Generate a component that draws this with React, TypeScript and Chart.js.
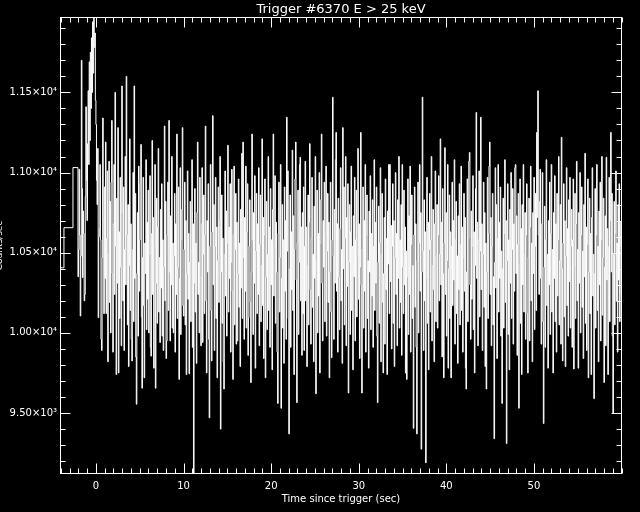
import React, { useEffect, useRef } from "react";
import { Chart, registerables } from "chart.js";

Chart.register(...registerables);

// ---- text ----
const TITLE = "Trigger #6370 E > 25 keV";
const X_TITLE = "Time since trigger (sec)";
const Y_TITLE = "Counts/sec";

// ---- axes ----
const X_MIN = -4.1;
const X_MAX = 60.05;
const Y_MIN = 9120;
const Y_MAX = 11970;
const X_TICKS = [0, 10, 20, 30, 40, 50];
const X_TICK_LABELS = ["0", "10", "20", "30", "40", "50"];
const Y_TICKS = [9500, 10000, 10500, 11000, 11500];
const Y_TICK_LABELS = ["9.50×10³", "1.00×10⁴", "1.05×10⁴", "1.10×10⁴", "1.15×10⁴"];
const X_MINOR_STEP = 1;
const Y_MINOR_STEP = 100;

// ---- data: coarse pre-trigger bins (start times, rates) ----
const PRE_TIMES = [-4.67, -3.65, -2.62];
const PRE_RATES = [10406, 10656, 11031];

// ---- data: 0.064 s bins starting at -2.048 s ----
const FINE_START = -2.048;
const FINE_WIDTH = 0.064;
const FINE_RATES = [
  10350, 10520, 11020, 10610, 10105, 10480, 11700, 10900, 10345, 10760, 10620, 10200, 10240, 10850, 11410, 10950, 10700, 11180, 11510, 11050,
  11690, 11200, 11750, 11400, 11840, 11500, 11940, 11620, 12100, 11780, 11870, 11450, 11300, 10950, 10800, 11150, 10095, 10600, 10650, 11050,
  10580, 9960, 9890, 10470, 11340, 10700, 10120, 10910, 10340, 11190, 10120, 10590, 11010, 9820, 10490, 11070, 10190, 10820, 10000, 10940,
  11325, 10370, 9880, 10680, 11050, 10240, 11500, 10540, 9740, 10840, 10310, 11280, 9750, 10630, 10090, 10970, 10410, 9920, 11540, 10750,
  10200, 10910, 9890, 10520, 11100, 10300, 11600, 10610, 10050, 10800, 9790, 10420, 11210, 10140, 10680, 9960, 9825, 10520, 11000, 10070,
  11540, 10340, 10870, 9850, 9555, 10370, 10750, 9980, 11040, 10260, 10580, 10930, 11175, 10100, 9655, 10470, 10970, 10170, 9720, 10560,
  10370, 11080, 10020, 10690, 10210, 10890, 10000, 10490, 10980, 9910, 9855, 10620, 11200, 10240, 10720, 9780, 10540, 11050, 9655, 10310,
  10840, 10060, 10660, 11150, 10130, 10470, 9940, 10770, 10280, 10930, 9980, 10580, 9890, 10410, 11290, 10200, 10820, 9840, 9950, 10610,
  10940, 10140, 11325, 10380, 9950, 10730, 10300, 11100, 10030, 10560, 10000, 10480, 10870, 9880, 10680, 10240, 11240, 10090, 10410, 10910,
  9710, 10340, 11030, 9990, 10580, 10770, 11280, 10170, 10105, 10520, 10940, 10050, 10700, 9740, 10370, 11010, 10210, 10620, 9745, 10440,
  10820, 10070, 10510, 11080, 9910, 10680, 9000, 10310, 10900, 10130, 10560, 9810, 10750, 11190, 10240, 10440, 10000, 10970, 10350, 9920,
  10680, 11030, 9940, 10490, 10860, 10120, 10610, 11290, 10200, 9750, 10700, 10380, 10930, 9960, 9470, 10540, 11050, 10140, 9825, 10630,
  11355, 10300, 10800, 9890, 10540, 10970, 10090, 10660, 9720, 10450, 10910, 10190, 10700, 11100, 9400, 10380, 10860, 10060, 10590, 9820,
  9650, 10490, 11010, 10230, 10760, 9980, 10560, 11170, 10130, 10660, 10340, 10930, 9880, 10440, 11020, 10260, 9710, 10610, 11040, 10050,
  10520, 10870, 9930, 10690, 9950, 10370, 10960, 10160, 10560, 9790, 10770, 10280, 11120, 10090, 11190, 10470, 9960, 10720, 10260, 11040,
  10030, 10630, 10930, 9860, 10095, 10540, 10830, 10190, 9690, 10380, 11240, 10580, 9990, 10750, 10310, 10980, 9780, 10510, 10870, 10120,
  10680, 10240, 11030, 9920, 10550, 10860, 10070, 10420, 11210, 10170, 10720, 9840, 10610, 10960, 9720, 10350, 10820, 10020, 10490, 11100,
  10140, 10660, 9910, 10900, 10300, 10580, 9770, 10770, 11240, 10230, 10540, 10980, 10060, 10690, 10380, 9880, 9560, 10620, 10940, 10130,
  10470, 11050, 9530, 10340, 10800, 10030, 10580, 9810, 10910, 10260, 10700, 9960, 11345, 10510, 11010, 10090, 9370, 10400, 10860, 9910,
  10630, 10270, 11140, 10140, 10730, 9740, 10520, 10960, 11190, 10330, 9565, 10560, 10890, 9990, 10440, 11050, 11095, 10200, 10660, 9860,
  10750, 10120, 10910, 9890, 10540, 11070, 10200, 10660, 9790, 10420, 10860, 10050, 10690, 11180, 10270, 9930, 10590, 10970, 10160, 10490,
  9820, 10790, 10340, 11100, 9620, 10450, 10890, 10000, 10620, 10230, 11000, 9750, 10560, 10830, 11240, 10310, 9950, 10700, 10410, 10940,
  10070, 10610, 11040, 9980, 10510, 10870, 10190, 10690, 9720, 10380, 10940, 10130, 9845, 10580, 11470, 10480, 9960, 10770, 10310, 11080,
  11250, 10260, 10680, 9880, 10840, 10350, 10020, 10650, 11030, 10200, 10520, 9810, 11280, 10400, 10910, 10050, 10590, 11100, 9920, 10720,
  10290, 10930, 9625, 10440, 10800, 9990, 10630, 11040, 10140, 10540, 9770, 10730, 10350, 10970, 9950, 10580, 10890, 10100, 10480, 11150,
  10210, 10680, 9840, 10410, 11250, 10300, 9625, 10520, 10910, 10030, 10700, 10260, 11050, 9880, 10610, 10860, 10090, 10450, 9780, 10760,
  10380, 10980, 10020, 10620, 10230, 10830, 9910, 10540, 11080, 10140, 10690, 10310, 10910, 9980, 9565, 10440, 10790, 10060, 10560, 11030,
  9820, 10490, 10870, 10190, 9750, 10370, 10720, 9930, 10960, 10270, 10590, 9740, 10760, 10430, 11050, 10120, 11050, 10320, 10670, 9900,
  10540, 10930, 10060, 10700, 9790, 10470, 11000, 10240, 10620, 9920, 10830, 10340, 11100, 10030, 10580, 10190, 10800, 9860, 11050, 10410,
  10120, 10890, 10300, 10660, 9750, 10510, 9710, 10350, 10960, 9990, 10730, 10240, 11040, 9880, 10550, 10860, 10090, 10420, 9405, 10610,
  10910, 10160, 10680, 9910, 9370, 10450, 10940, 10000, 10560, 11050, 10260, 10750, 9275, 10380, 11470, 10510, 9890, 10830, 10200, 10630,
  9190, 10340, 10970, 10060, 10690, 9770, 10520, 10870, 10130, 10580, 11100, 9950, 10420, 10770, 10270, 9820, 10680, 11010, 10070, 10480,
  10800, 10030, 10610, 10980, 10200, 10490, 11210, 10300, 10690, 9850, 10900, 10370, 9720, 10560, 11155, 10240, 10750, 9980, 10450, 11050,
  9780, 10400, 10860, 10090, 10630, 9720, 10540, 10940, 10170, 10700, 10330, 11080, 9930, 10580, 10820, 10120, 10480, 9810, 10730, 10270,
  10930, 10050, 10550, 11040, 10140, 10660, 9880, 10470, 10870, 10260, 10720, 9780, 9650, 10380, 10960, 10070, 10590, 11070, 11125, 10300,
  9960, 10760, 10210, 10540, 10980, 10020, 10630, 9750, 10420, 10900, 11375, 10340, 10690, 9920, 10580, 11010, 10100, 10510, 11345, 10270,
  10680, 9890, 10490, 10940, 10160, 10750, 9790, 10560, 9650, 10380, 10970, 10090, 10620, 11040, 11190, 10240, 10720, 9920, 10540, 10870,
  10050, 10350, 9340, 10440, 11030, 10280, 10800, 9840, 10590, 11050, 10130, 10690, 10340, 10910, 9980, 10510, 9560, 10400, 10840, 10030,
  10620, 11080, 10190, 10700, 9310, 10450, 10930, 9990, 10580, 9770, 10770, 10310, 11000, 10090, 10520, 10900, 9930, 10680, 10260, 11030,
  11050, 10370, 10730, 9860, 10550, 10870, 9530, 10420, 10960, 10060, 10650, 9740, 10800, 10300, 11050, 10130, 10490, 10750, 9960, 10610,
  10930, 10120, 9750, 10470, 10840, 9950, 10660, 11040, 10200, 10560, 9820, 10750, 10370, 10970, 10020, 10540, 10870, 10140, 11250, 10720,
  11510, 10610, 10240, 10820, 11020, 10340, 9930, 10680, 11000, 10070, 9435, 10410, 10790, 9910, 10580, 11080, 10170, 10490, 9780, 10700,
  10300, 10940, 9990, 10620, 11050, 10130, 10520, 9750, 10750, 10340, 10980, 10070, 10680, 9880, 10870, 10230, 10580, 11100, 10050, 10450,
  10800, 9930, 11220, 10400, 9825, 10560, 10930, 10100, 10700, 9790, 10480, 11030, 10170, 10650, 9980, 10830, 10320, 10970, 10030, 10540,
  10770, 9910, 10580, 10960, 9775, 10420, 10870, 10090, 10680, 11070, 10200, 10520, 9780, 10750, 10310, 11000, 10000, 10610, 10910, 10160,
  10510, 9840, 10800, 10350, 11120, 10060, 10660, 9890, 10550, 10960, 9720, 10380, 10840, 10120, 10620, 9740, 10720, 11030, 10230, 10490,
  9590, 10370, 10900, 10030, 10610, 11050, 10140, 10540, 9820, 10760, 10300, 10940, 9950, 10580, 11100, 10110, 10470, 10840, 9690, 10410,
  10730, 9920, 11095, 10330, 10650, 9740, 10540, 10970, 10070, 10700, 11250, 10380, 10870, 9980, 9500, 10490, 10820, 10050, 10620, 11010,
  10200, 10560, 9880, 10800, 10330, 10930, 10070, 10540, 10690, 10240, 10480,
];

function buildPoints() {
  const pts: { x: number; y: number }[] = [];
  PRE_TIMES.forEach((t, i) => pts.push({ x: t, y: PRE_RATES[i] }));
  FINE_RATES.forEach((v, i) => pts.push({ x: FINE_START + i * FINE_WIDTH, y: v }));
  const last = FINE_RATES[FINE_RATES.length - 1];
  pts.push({ x: FINE_START + FINE_RATES.length * FINE_WIDTH, y: last });
  return pts;
}

const FONT = "'DejaVu Sans', sans-serif";

const framePlugin = {
  id: "idlFrame",
  afterDatasetsDraw(chart: any) {
    const { ctx, chartArea: a, scales } = chart;
    const xs = scales.x;
    const ys = scales.y;
    ctx.save();
    ctx.strokeStyle = "#ffffff";
    ctx.lineWidth = 1;
    const L = Math.round(a.left) + 0.5;
    const R = Math.round(a.right) - 0.5;
    const T = Math.round(a.top) + 0.5;
    const B = Math.round(a.bottom) - 0.5;
    ctx.strokeRect(L, T, R - L, B - T);
    ctx.beginPath();
    for (let v = Math.ceil(X_MIN / X_MINOR_STEP) * X_MINOR_STEP; v <= X_MAX; v += X_MINOR_STEP) {
      const major = X_TICKS.includes(v);
      const len = major ? 10 : 5;
      const px = Math.round(xs.getPixelForValue(v)) + 0.5;
      ctx.moveTo(px, B);
      ctx.lineTo(px, B - len);
      ctx.moveTo(px, T);
      ctx.lineTo(px, T + len);
    }
    for (let v = Math.ceil(Y_MIN / Y_MINOR_STEP) * Y_MINOR_STEP; v <= Y_MAX; v += Y_MINOR_STEP) {
      const major = Y_TICKS.includes(v);
      const len = major ? 10 : 5;
      const py = Math.round(ys.getPixelForValue(v)) + 0.5;
      ctx.moveTo(L, py);
      ctx.lineTo(L + len, py);
      ctx.moveTo(R, py);
      ctx.lineTo(R - len, py);
    }
    ctx.stroke();

    ctx.fillStyle = "#ffffff";
    ctx.textAlign = "center";
    ctx.textBaseline = "alphabetic";
    ctx.font = `13px ${FONT}`;
    ctx.fillText(TITLE, (a.left + a.right) / 2, 13);
    ctx.font = `10px ${FONT}`;
    ctx.fillText(X_TITLE, (a.left + a.right) / 2, 502);

    ctx.save();
    ctx.translate(2, (a.top + a.bottom) / 2);
    ctx.rotate(-Math.PI / 2);
    ctx.font = `9px ${FONT}`;
    ctx.fillText(Y_TITLE, 0, 0);
    ctx.restore();
    ctx.restore();
  },
};

export default function App() {
  const ref = useRef<HTMLCanvasElement | null>(null);

  useEffect(() => {
    document.body.style.margin = "0";
    document.body.style.background = "#000";
    const canvas = ref.current;
    if (!canvas) return;
    const chart = new Chart(canvas, {
      type: "line",
      data: {
        datasets: [
          {
            data: buildPoints(),
            stepped: "before",
            borderColor: "#ffffff",
            borderWidth: 1,
            pointRadius: 0,
            fill: false,
          },
        ],
      },
      options: {
        animation: false,
        responsive: false,
        maintainAspectRatio: false,
        layout: { padding: { top: 17, right: 18, bottom: 0, left: 0 } },
        plugins: { legend: { display: false }, title: { display: false }, tooltip: { enabled: false } },
        scales: {
          x: {
            type: "linear",
            min: X_MIN,
            max: X_MAX,
            grid: { display: false, drawTicks: false },
            border: { display: false },
            afterBuildTicks: (s: any) => {
              s.ticks = X_TICKS.map((v) => ({ value: v }));
            },
            afterFit: (s: any) => {
              s.height = 38;
            },
            ticks: {
              color: "#ffffff",
              font: { family: FONT, size: 10 },
              padding: 6,
              maxRotation: 0,
              autoSkip: false,
              callback: (v: any) => {
                const i = X_TICKS.indexOf(Number(v));
                return i >= 0 ? X_TICK_LABELS[i] : "";
              },
            },
          },
          y: {
            type: "linear",
            min: Y_MIN,
            max: Y_MAX,
            grid: { display: false, drawTicks: false },
            border: { display: false },
            afterBuildTicks: (s: any) => {
              s.ticks = Y_TICKS.map((v) => ({ value: v }));
            },
            afterFit: (s: any) => {
              s.width = 60;
            },
            ticks: {
              color: "#ffffff",
              font: { family: FONT, size: 10 },
              padding: 3,
              autoSkip: false,
              callback: (v: any) => {
                const i = Y_TICKS.indexOf(Number(v));
                return i >= 0 ? Y_TICK_LABELS[i] : "";
              },
            },
          },
        },
      },
      plugins: [framePlugin],
    });
    return () => chart.destroy();
  }, []);

  return (
    <div style={{ position: "absolute", left: 0, top: 0, width: 640, height: 512, background: "#000" }}>
      <canvas ref={ref} width={640} height={512} style={{ display: "block", width: 640, height: 512 }} />
    </div>
  );
}
